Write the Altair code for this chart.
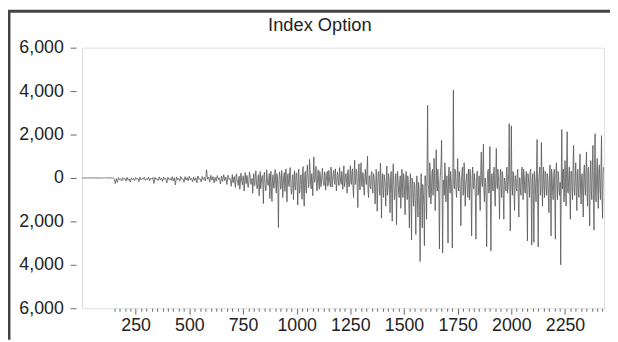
import altair as alt
import pandas as pd

# Main samples: every 5 index units from 0 to 2430 (row = 50 index units)
x_step = 5
y_rows = [
    [0, 0, 0, 0, 0, 0, 0, 0, 0, 0],
    [0, 5, -5, 0, 5, -5, 0, 5, -10, 5],
    [-5, 10, -10, 5, -5, 10, -15, 10, -10, 5],
    [-40, -260, -30, -200, 20, -80, -30, -140, 10, -60],
    [-20, -150, 30, -110, -40, -190, 10, -80, -20, -120],
    [20, -60, -10, -170, 40, -90, -30, -60, 30, -110],
    [-20, -80, 40, -130, -10, -60, 20, -250, 30, -70],
    [-30, -120, 50, -90, -10, -160, 40, -60, -20, -230],
    [30, -80, -20, -110, 60, -140, 10, -320, 50, -90],
    [-10, -150, 70, -60, -40, -200, 60, -100, 20, -130],
    [80, -90, -20, -170, 50, -120, 10, -220, 90, -60],
    [-30, -180, 70, -80, 20, -140, 380, -60, 40, -190],
    [120, -100, 60, -230, 30, -150, 110, -70, 10, -280],
    [90, -160, 150, -120, 40, -300, 130, -60, -20, -380],
    [160, -220, 60, -450, 190, -140, 20, -520, 220, -180],
    [100, -600, 250, -260, 40, -430, 280, -160, -60, -700],
    [200, -350, 330, -500, 80, -820, 300, -240, 120, -1180],
    [260, -600, 380, -300, -100, -950, 310, -1080, 150, -480],
    [390, -700, 80, -2280, 280, -520, 350, -900, 120, -620],
    [420, -1100, 200, -400, 480, -750, 90, -1000, 330, -560],
    [240, -1250, 400, -680, 150, -980, 520, -1300, 300, -700],
    [600, -450, 860, -300, 200, -820, 970, -150, 540, -600],
    [380, -520, 150, -300, 450, -200, 280, -560, 120, -380],
    [350, -250, 500, -420, 200, -150, 420, -600, 280, -320],
    [480, -180, 300, -520, 560, -260, 200, -700, 380, -420],
    [560, -300, 420, -900, 820, -200, 300, -1360, 650, -550],
    [700, -400, 200, -800, 400, -300, 1000, -900, 100, -500],
    [300, -700, 100, -1200, 400, -1530, 200, -600, 680, -1850],
    [200, -900, -100, -1300, 550, -600, 0, -1600, 300, -1990],
    [650, -1000, 100, -2160, 300, -700, -200, -1400, 400, -900],
    [100, -1700, 300, -1000, -200, -2300, 200, -2860, -100, -1300],
    [-300, -2600, 100, -1800, -500, -3850, 200, -2300, -700, -3120],
    [100, -1900, 3350, -500, 700, -1200, 200, -800, 900, -1500],
    [1300, -600, -100, -3270, 300, 1730, -3450, -200, 700, -1100],
    [100, -3000, 500, -700, -200, -3230, 4050, -500, 300, -900],
    [900, -600, 0, -2200, 300, -800, 700, -1300, -100, -700],
    [400, -1000, -100, -2670, 500, -500, -200, -2820, 300, -800],
    [100, -1500, 1200, -400, 1560, -1100, -200, -3170, 300, -700],
    [1450, -3360, 200, -600, 500, -1300, 1360, -500, 0, -1900],
    [400, -900, 100, -1900, -100, -600, 500, -400, 2500, -2440],
    [2400, -800, 200, -1500, 100, -600, 400, -1800, 0, -800],
    [500, -1000, 100, -700, 300, -2900, -100, -900, 400, -3090],
    [200, -2960, 0, -1100, 1770, -3180, 200, -800, 1640, -1300],
    [500, -900, 200, -800, 0, -1600, 600, -2670, 100, -1000],
    [400, -2820, 700, -1000, 200, -800, -4000, 2230, 300, -1100],
    [800, -1300, 2130, -700, 500, -1900, 300, -1000, 1500, -800],
    [700, -1500, 400, -900, 1100, -1200, 200, -1800, 600, -800],
    [1200, -1300, 500, -2210, 800, -1000, 1500, -2400, 2040, -1100],
    [900, -1400, 600, -1000, 1950, -1860, 500],
]

# In-between samples (index 702.5, 707.5, ...) for the dense core of the band
mid_start = 702.5
mid_rows = [
    [-200, 50, -300, 100, -150, -350, 80, -250, 0, -320],
    [60, -280, -50, 120, -400, -100, 150, -300, -20, -200],
    [-350, 100, -150, -450, 150, -200, -500, 50, -300, 100],
    [-250, -500, 100, -350, 200, -150, -600, 0, -400, 150],
    [-300, 200, -550, -100, 100, -450, 0, -350, 250, -200],
    [-500, 100, -300, 300, -250, -600, 150, -200, -450, 200],
    [-400, 200, -700, 0, -300, 300, -600, 100, -450, 250],
    [100, -300, 400, -500, -100, 300, -200, 200, -400, 0],
    [-200, 300, -400, 100, -100, -350, 200, -150, 300, -250],
    [0, -400, 200, -100, 350, -300, 50, -200, 150, -350],
    [100, -300, -50, 250, -400, 150, -200, 300, -350, 0],
    [-200, 300, -500, 100, -300, 400, -600, 200, -150, 300],
    [-300, 250, -500, 0, -200, 350, -600, 100, -400, 200],
    [-500, 200, -300, -700, 100, -400, 300, -800, 0, -300],
    [-600, 150, -400, -100, -800, 200, -500, 0, -700, 100],
    [-300, -800, 200, -500, -100, -900, 100, -600, -200, 200],
    [-800, -100, -600, 100, -1000, -300, -700, 0, -900, -200],
    [-1200, -400, -900, -200, -1500, -600, -1100, -300, -1300, 100],
    [-600, 500, -300, -900, 200, -700, 400, -400, 0, -800],
    [-300, 400, -900, -200, 600, -500, -100, -800, 300, -400],
    [-700, 200, -400, 300, -900, 100, -300, 400, -600, 0],
    [-400, 300, -800, -100, 500, -600, 0, -300, 200, -900],
    [-200, 400, -700, 100, -400, 200, -900, -100, 300, -500],
    [-800, 300, -200, 500, -600, 0, -900, -300, 400, -500],
    [-700, 100, -400, 300, -800, 200, -300, 400, -600, 0],
    [-500, 300, -800, 0, -400, 400, -700, 200, -300, 100],
    [-400, 300, -700, 100, -500, 200, -900, 0, -600, 300],
    [-300, 400, -600, 0, -900, 200, -400, 300, -700, -100],
    [-800, 300, -500, 400, -700, -100, 500, -600, 200, -300],
    [-400, 300, -600, 200, -800, 0, -500, 400, -700, 100],
    [-900, 200, -400, 300, -600, -200, 0, -500, 400, -700],
    [-200, 500, -600, 100, -800, 300, -400, 600, -500, 0],
    [-600, 300, -700, 400, -500, 100, -900, 200, -400, 300],
    [-500, 400, -900, 100, -600, 500, -700, 300, -800, 200],
    [-600, 400, -500, 300, -900, 200],
]

main_vals = [v for row in y_rows for v in row]
main_idx = [i * x_step for i in range(len(main_vals))]
mid_vals = [v for row in mid_rows for v in row]
mid_idx = [mid_start + i * x_step for i in range(len(mid_vals))]

x_ticks = list(range(150, 2426, 25))
y_ticks = [-6000, -4000, -2000, 0, 2000, 4000, 6000]
title_text = "Index Option"

df = pd.DataFrame({"t": main_idx + mid_idx, "v": main_vals + mid_vals}).sort_values("t")

W, H = 529, 264
FONT = "Liberation Sans"

line = alt.Chart(df).mark_line(color="#555555", strokeWidth=0.8).encode(
    x=alt.X(
        "t:Q",
        sort=None,
        scale=alt.Scale(domain=[0, 2432], nice=False, zero=False),
        axis=alt.Axis(
            values=x_ticks,
            title=None,
            grid=False,
            domain=False,
            format="d",
            labelExpr="datum.value % 250 === 0 ? datum.label : ''",
            labelOverlap=False,
            tickSize={"condition": {"test": "datum.value % 250 === 0", "value": 6}, "value": 3},
            tickColor="#666666",
            labelPadding=3,
            labelFontSize=18,
            labelFont=FONT,
            labelColor="#222222",
        ),
    ),
    y=alt.Y(
        "v:Q",
        scale=alt.Scale(domain=[-6000, 6000], nice=False),
        axis=alt.Axis(
            values=y_ticks,
            title=None,
            grid=False,
            domain=False,
            offset=6,
            tickSize=6,
            tickColor="#666666",
            labelPadding=7,
            labelExpr="format(abs(datum.value), ',')",
            labelFontSize=18,
            labelFont=FONT,
            labelColor="#222222",
        ),
    ),
    order="t:Q",
)

one_row = alt.Chart(pd.DataFrame({"title": [title_text]}))
left_border = one_row.mark_rule(color="#444444", strokeWidth=3).encode(
    x=alt.value(-74), y=alt.value(-38), y2=alt.value(296)
)
top_border = one_row.mark_rule(color="#444444", strokeWidth=3).encode(
    y=alt.value(-37), x=alt.value(-76), x2=alt.value(536)
)
title_mark = one_row.mark_text(
    font=FONT, fontSize=18.5, color="#222222", align="center", baseline="alphabetic"
).encode(text="title:N", x=alt.value(241), y=alt.value(-17))

chart = (
    alt.layer(line, left_border, top_border, title_mark)
    .properties(
        width=W,
        height=H,
        autosize=alt.AutoSizeParams(type="none"),
        padding={"left": 75, "top": 38, "right": 6, "bottom": 32},
    )
    .configure_view(stroke="#808080", strokeWidth=1)
    .configure(background="white")
)

chart.save("out.html", embed_options={"renderer": "svg", "actions": False})
